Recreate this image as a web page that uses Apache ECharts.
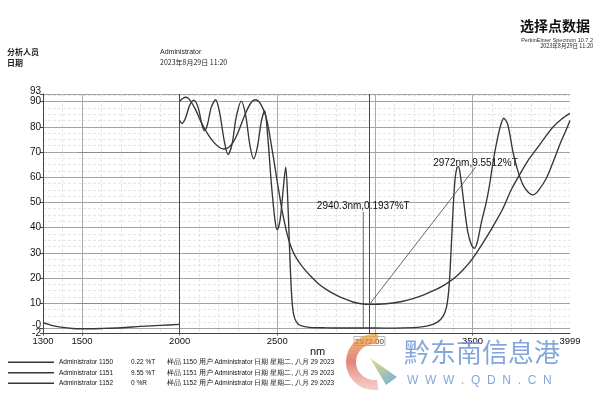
<!DOCTYPE html>
<html><head><meta charset="utf-8">
<script src="https://cdn.jsdelivr.net/npm/echarts@6/dist/echarts.min.js"></script>
<style>html,body{margin:0;padding:0;background:#fff}#c{width:600px;height:408px}</style>
</head><body><div id="c"></div>
<script>
// ---------- data ----------
const seriesNames = ['Administrator 1150', 'Administrator 1151', 'Administrator 1152'];
const legendValues = ['0.22 %T', '9.55 %T', '0 %R'];
const sampleInfo = [
  '样品 1150 用户 Administrator 日期 星期二, 八月 29 2023',
  '样品 1151 用户 Administrator 日期 星期二, 八月 29 2023',
  '样品 1152 用户 Administrator 日期 星期二, 八月 29 2023'
];

// 1150 (%T)
const wl1150 = [2000,2012,2030,2050,2072,2095,2115,2128,2142,2162,2184,2205,2228,2248,2268,2290,2316,2338,2360,2379,2398,2418,2435,2450,2470,2488,2500,2515,2530,2543,2553,2563,2572,2580,2590,2606,2630,2666,2750,2850,2940.3,3050,3150,3230,3280,3320,3350,3368,3380,3390,3400,3410,3420,3428,3438,3455,3475,3495,3510,3525,3545,3570,3587,3605,3621,3640,3660,3680,3707,3730,3758,3785,3808,3835,3878,3910,3946,3975,3999];
const t1150 = [82.5,81.3,83.5,88.3,90.6,87.5,80.5,78.5,80.8,87.8,90.7,85.5,74.5,69,73,84,90.2,84.5,72.5,67.3,72,82,86.4,77,57,43,39.2,43.5,55,64,52,31,15,7.3,3.8,1.8,0.9,0.45,0.25,0.18,0.19,0.15,0.25,0.55,1.2,2.5,5,9,17,31,47,59,63.8,64.2,60.5,50,38.5,33,31.8,34.5,42,50,57,66,72.8,79.5,83.4,81,70,63,57,54,53,54.5,59.6,65.5,72.8,78,82.5];

// 1151 (%T)
const wl1151 = [2000,2015,2034,2055,2080,2100,2119,2145,2171,2200,2225,2250,2275,2300,2325,2350,2370,2388,2405,2420,2440,2455,2470,2486,2500,2512,2525,2537,2550,2563,2580,2597,2631,2670,2717,2760,2802,2845,2888,2930,2972,3015,3058,3100,3144,3186,3229,3270,3314,3357,3399,3442,3485,3527,3570,3612,3655,3698,3741,3783,3826,3868,3911,3955,3999];
const t1151 = [90.1,91.2,91.7,90.3,87,83.5,80.5,77,74.2,72,71.2,71.8,74,78,83,87.5,90,90.7,90,88.3,84.5,79.5,72.5,65,58,52.5,46.5,42,37.5,34,30.5,28,24.2,20.8,17.3,15,13.2,11.7,10.5,9.8,9.55,9.6,9.8,10.2,10.8,11.6,12.7,14,15.5,17.3,19.5,22.5,26.2,30.8,36,41.5,47.5,55,61,66.5,71,75.5,79.8,83,85.3];

// 1152 (%R)
const wl1152 = [1300,1325,1350,1400,1450,1500,1550,1600,1700,1800,1900,2000];
const r1152 = [2.3,1.7,1.1,0.4,0.0,-0.1,-0.1,0.0,0.3,0.8,1.2,1.6];

// picked points
const pickA = [2940.3, 0.1937], pickALabel = '2940.3nm,0.1937%T', pickATop = 46.3;
const pickB = [2972, 9.5512],  pickBLabel = '2972nm,9.5512%T',  pickBEnd = [3515, 64];
const cursorNm = 2972;
const dividerNm = 2000;

// axes
const yTicks = [-2,0,10,20,30,40,50,60,70,80,90,93];
const yLabelsMain = [0,10,20,30,40,50,60,70,80,90];
const yLabelsEnds = [-2,93];
const xLabelVals = [1300,1500,2000,2500,2972,3500,3999];
const xMajor = [1300,1500,2000,2500,3000,3500];

// darker grid segments seen on the print
const segs = [[[1480,70],[1840,70]], [[1470,10],[1795,10]]];

// minor grid positions (grid only)
const yMinor = []; for (let v = 0; v < 93; v += 2.5) if (v % 10 !== 0) yMinor.push(v);
const xMinor = []; for (let v = 1400; v < 3999; v += 100) if (v % 500 !== 0) xMinor.push(v);

const zip = (a, b) => a.map((x, i) => [x, b[i]]);

const lineColor = '#363636';
const narrow = "'Liberation Sans Narrow','Arial Narrow','Liberation Sans',sans-serif";
const yRich = {
  up: {fontSize: 10, fontFamily: 'Liberation Sans', color: '#111', padding: [0, 0, 6, 0]},
  up5: {fontSize: 10, fontFamily: 'Liberation Sans', color: '#111', padding: [0, 0, 5, 0]}
};
const yLabelStyle = {margin: 2, color: '#111', fontSize: 10, fontFamily: 'Liberation Sans', hideOverlap: false, rich: yRich};

const chart = echarts.init(document.getElementById('c'), null, {renderer: 'canvas'});

const option = {
  animation: false,
  backgroundColor: '#fff',
  grid: {left: 43, right: 30, top: 94, bottom: 74.5, containLabel: false},
  xAxis: [
    {
      type: 'value', min: 1300, max: 3999,
      axisLine: {show: true, onZero: false, lineStyle: {color: '#444', width: 1}},
      axisTick: {show: true, length: 2, customValues: xMajor, lineStyle: {color: '#555'}},
      axisLabel: {
        customValues: xLabelVals, margin: 3, color: '#111', fontSize: 9.5, fontFamily: narrow,
        showMinLabel: true, showMaxLabel: true, hideOverlap: false,
        formatter: v => v === cursorNm ? '{b|2972.00}' : String(v),
        rich: {b: {fontSize: 8, color: '#333', borderColor: '#888', borderWidth: 0.6, padding: [1, 1, 0, 1], fontFamily: narrow}}
      },
      splitLine: {show: true, lineStyle: {color: '#a9a9a9', width: 1}}
    },
    {
      type: 'value', min: 1300, max: 3999, position: 'bottom',
      axisLine: {show: false}, axisLabel: {show: false},
      axisTick: {show: false, customValues: xMinor},
      splitLine: {show: true, lineStyle: {color: '#dedede', width: 0.8, type: [3, 2]}}
    }
  ],
  yAxis: [
    {
      type: 'value', min: -2, max: 93,
      axisLine: {show: true, lineStyle: {color: '#444', width: 1}},
      axisTick: {show: true, length: 3, customValues: yTicks, lineStyle: {color: '#444'}},
      axisLabel: Object.assign({customValues: yLabelsMain, formatter: v => v === 0 ? '{up|-0}' : String(v)}, yLabelStyle),
      splitLine: {show: true, lineStyle: {color: '#a3a3a3', width: 1}}
    },
    {
      type: 'value', min: -2, max: 93, position: 'left',
      axisLine: {show: false}, axisLabel: {show: false},
      axisTick: {show: false, customValues: yMinor},
      splitLine: {show: true, lineStyle: {color: '#e0e0e0', width: 0.8, type: [3, 2]}}
    },
    {
      type: 'value', min: -2, max: 93, position: 'left',
      axisLine: {show: false}, splitLine: {show: false},
      axisTick: {show: false, customValues: yLabelsEnds},
      axisLabel: Object.assign({customValues: yLabelsEnds, showMinLabel: true, showMaxLabel: true,
        formatter: v => v === 93 ? '{up5|93}' : String(v)}, yLabelStyle)
    }
  ],
  legend: {
    orient: 'vertical', left: 8, top: 357, padding: 0, itemWidth: 46, itemHeight: 1.6, itemGap: 0,
    icon: 'rect',
    data: seriesNames, selectedMode: false,
    textStyle: {
      fontSize: 6.5, color: '#111', fontFamily: narrow, lineHeight: 10.5,
      rich: {
        n: {width: 72, fontSize: 6.5, fontFamily: narrow, color: '#111', lineHeight: 10.5},
        v: {width: 36, fontSize: 6.5, fontFamily: narrow, color: '#111', lineHeight: 10.5},
        d: {fontSize: 6.5, fontFamily: narrow, color: '#111', lineHeight: 10.5}
      }
    },
    formatter: name => {
      const i = seriesNames.indexOf(name);
      return '{n|' + name + '}{v|' + legendValues[i] + '}{d|' + sampleInfo[i] + '}';
    }
  },
  series: [
    {
      name: seriesNames[0], type: 'line', data: zip(wl1150, t1150),
      symbol: 'none', smooth: 0.3,
      lineStyle: {color: lineColor, width: 1.35}, itemStyle: {color: lineColor}, z: 5
    },
    {
      name: seriesNames[1], type: 'line', data: zip(wl1151, t1151),
      symbol: 'none', smooth: 0.3,
      lineStyle: {color: lineColor, width: 1.35}, itemStyle: {color: lineColor}, z: 5
    },
    {
      name: seriesNames[2], type: 'line', data: zip(wl1152, r1152),
      symbol: 'none', smooth: 0.3,
      lineStyle: {color: lineColor, width: 1.35}, itemStyle: {color: lineColor}, z: 5,
      markLine: {
        silent: true, symbol: 'none', label: {show: false}, animation: false,
        lineStyle: {color: '#4a4a4a', width: 1, type: 'solid'},
        data: [
          {xAxis: dividerNm},
          {xAxis: cursorNm},
          [{coord: segs[0][0], lineStyle: {color: '#8c8c8c', width: 1}}, {coord: segs[0][1]}],
          [{coord: segs[1][0], lineStyle: {color: '#8c8c8c', width: 1}}, {coord: segs[1][1]}]
        ]
      }
    },
    {
      name: 'pickA', type: 'line', data: [pickA, [pickA[0], pickATop]],
      symbol: 'none', lineStyle: {color: '#444', width: 0.8}, z: 6, silent: true,
      markPoint: {
        symbol: 'circle', symbolSize: 0, silent: true,
        data: [{coord: [pickA[0], pickATop]}],
        label: {show: true, position: 'top', distance: 0, formatter: pickALabel, color: '#111', fontSize: 10, fontFamily: 'Liberation Sans'}
      }
    },
    {
      name: 'pickB', type: 'line', data: [pickB, pickBEnd],
      symbol: 'none', lineStyle: {color: '#444', width: 0.8}, z: 6, silent: true,
      markPoint: {
        symbol: 'circle', symbolSize: 0, silent: true,
        data: [{coord: pickBEnd}],
        label: {show: true, position: 'top', distance: -1, formatter: pickBLabel, color: '#111', fontSize: 10, fontFamily: 'Liberation Sans'}
      }
    }
  ],
  graphic: [
    {type: 'text', right: 10, top: 19, style: {text: '选择点数据', fontSize: 14, fontWeight: 'bold', fill: '#111', fontFamily: "'Noto Sans CJK SC'"}},
    {type: 'text', right: 7, top: 37, style: {text: 'PerkinElmer Spectrum 10.7.2', fontSize: 5.5, fill: '#333', fontFamily: 'Liberation Sans'}},
    {type: 'text', right: 7, top: 43, style: {text: '2023年8月29日 11:20', fontSize: 5.5, fill: '#222', fontFamily: "'Noto Sans CJK SC'"}},
    {type: 'text', left: 7, top: 48, style: {text: '分析人员', fontSize: 8, fontWeight: 'bold', fill: '#222', fontFamily: "'Noto Sans CJK SC'"}},
    {type: 'text', left: 7, top: 58.5, style: {text: '日期', fontSize: 8, fontWeight: 'bold', fill: '#222', fontFamily: "'Noto Sans CJK SC'"}},
    {type: 'text', left: 160, top: 48.5, style: {text: 'Administrator', fontSize: 7, fill: '#222', fontFamily: narrow}},
    {type: 'text', left: 160, top: 59, style: {text: '2023年8月29日 11:20', fontSize: 7, fill: '#222', fontFamily: "'Noto Sans CJK SC'"}},
    {type: 'text', left: 310, top: 346, style: {text: 'nm', fontSize: 11, fill: '#111', fontFamily: 'Liberation Sans'}},
    // watermark
    {type: 'sector', z: 100, shape: {cx: 374, cy: 362, r: 28, r0: 18, startAngle: Math.PI * 0.45, endAngle: Math.PI * 1.55, clockwise: true},
      style: {fill: new echarts.graphic.LinearGradient(0, 0, 0, 1, [{offset: 0, color: 'rgba(240,170,60,0.75)'}, {offset: 0.5, color: 'rgba(215,80,70,0.7)'}, {offset: 1, color: 'rgba(225,120,110,0.35)'}])}},
    {type: 'polygon', z: 101, shape: {points: [[370, 358], [397, 377], [386, 385]]},
      style: {fill: new echarts.graphic.LinearGradient(0, 0, 1, 1, [{offset: 0, color: 'rgba(225,215,90,0.8)'}, {offset: 1, color: 'rgba(80,150,215,0.8)'}])}},
    {type: 'text', z: 100, left: 404, top: 339, style: {text: '黔东南信息港', fontSize: 26, fill: 'rgba(110,150,215,0.85)', fontFamily: "'Noto Sans CJK SC'"}},
    {type: 'text', z: 100, left: 407, top: 375, style: {text: 'W  W  W  .  Q  D  N  .  C  N', fontSize: 12, fill: 'rgba(110,150,215,0.85)', fontFamily: 'Liberation Sans'}}
  ]
};
chart.setOption(option);
</script>
</body></html>
